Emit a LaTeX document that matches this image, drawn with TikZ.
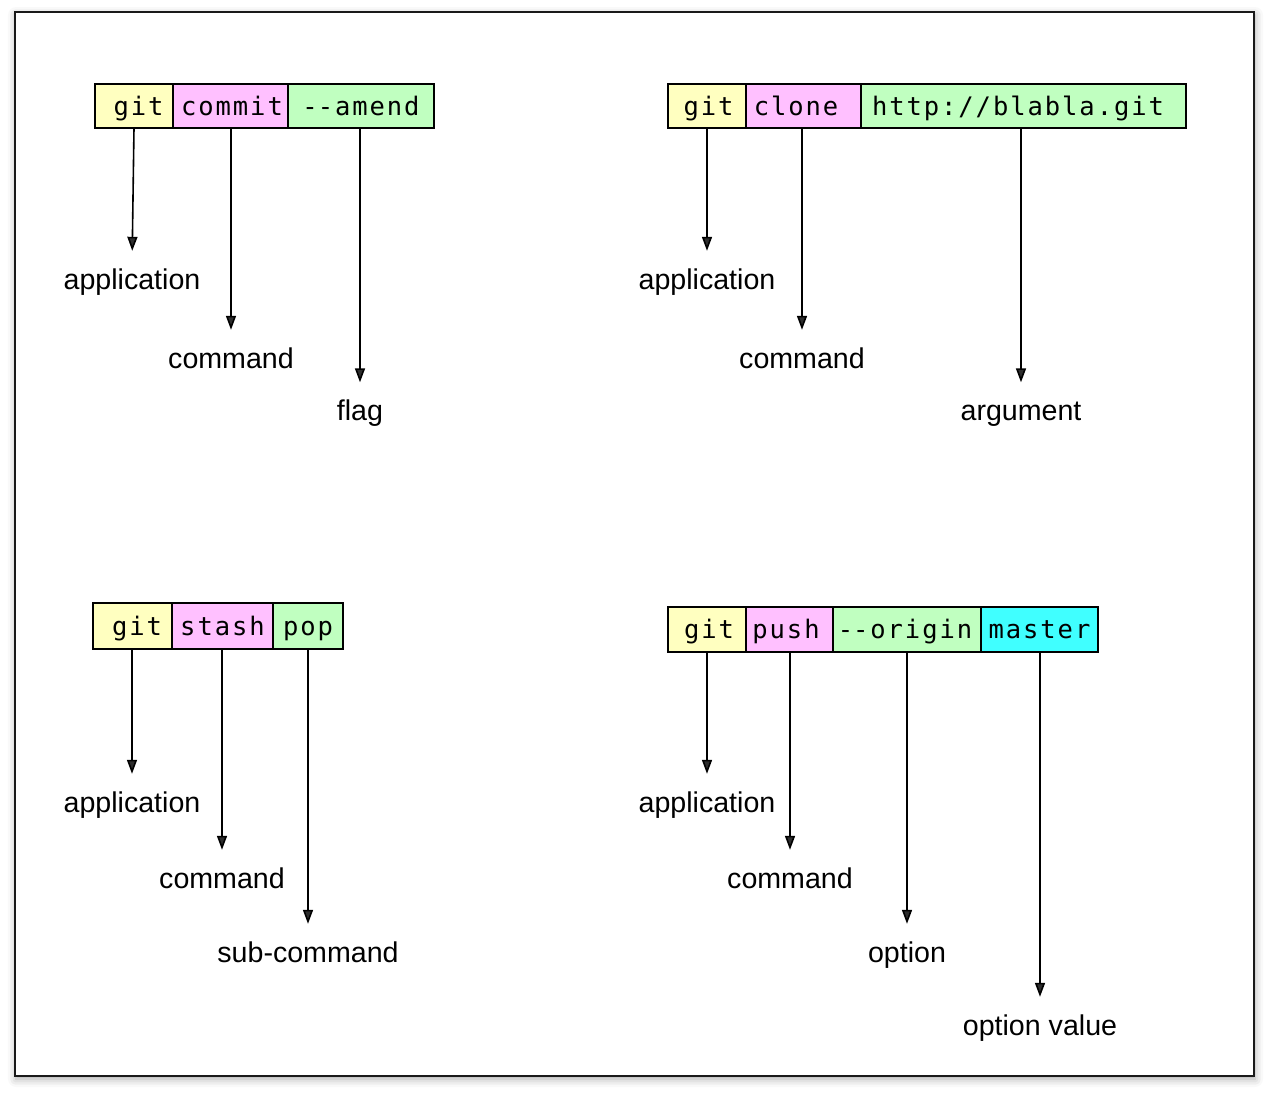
\documentclass[tikz,border=0pt]{standalone}
\usepackage{fontspec}
\setmainfont{Liberation Sans}
\newfontfamily\cellfont{DejaVu Sans Mono}[LetterSpace=7.6]
\usetikzlibrary{arrows.meta,shadows.blur}
\definecolor{cellyellow}{HTML}{FFFFC0}
\definecolor{cellpink}{HTML}{FFC0FF}
\definecolor{cellgreen}{HTML}{C0FFC0}
\definecolor{cellcyan}{HTML}{40FFFF}
\newcommand\nudge[1]{\hspace*{#1}}
\begin{document}
\begin{tikzpicture}[x=1pt,y=-1pt,
  cell/.style={draw=black, line width=1.6pt, outer sep=0pt, inner sep=0pt,
    minimum height=44pt, text height=20pt, text depth=2pt,
    font=\cellfont\fontsize{25.5}{32}\selectfont, anchor=west},
  first/.style={cell, anchor=north west},
  tag/.style={font=\fontsize{28.6}{34}\selectfont, inner sep=0pt,
    text height=21pt, text depth=6pt, anchor=base},
  arr/.style={line width=1.6pt, -{Triangle[length=14pt,width=10pt]}, shorten >=17pt},
  frame/.style={draw=black!90, line width=2pt, fill=white}]
\useasboundingbox (0,0) rectangle (1269,1095);

% outer frame with soft shadow
\path[frame, blur shadow={shadow xshift=1pt, shadow yshift=-3pt,
  shadow blur radius=8pt, shadow opacity=35}] (15,12) rectangle (1254,1076);

% git commit --amend
\node[first, fill=cellyellow, minimum width=78pt] (a1) at (95,84) {\nudge{9pt}git};
\node[cell, fill=cellpink, minimum width=115pt] (a2) at (a1.east) {\nudge{3pt}commit};
\node[cell, fill=cellgreen, minimum width=146pt] (a3) at (a2.east) {-\kern0pt-amend};
\node[tag] (la1) at (132,289) {application};
\node[tag] (la2) at (231,368) {command};
\node[tag] (la3) at (360,420.5) {flag};
\draw[arr] ([xshift=2pt]a1.south -| la1) -- (la1.north);
\draw[arr] (a2.south -| la2) -- (la2.north);
\draw[arr] (a3.south -| la3) -- (la3.north);

% git clone http://blabla.git
\node[first, fill=cellyellow, minimum width=78pt] (b1) at (668,84) {\nudge{3pt}git};
\node[cell, fill=cellpink, minimum width=115pt] (b2) at (b1.east) {\nudge{-15pt}clone};
\node[cell, fill=cellgreen, minimum width=325pt] (b3) at (b2.east) {\nudge{-11pt}http://blabla.git};
\node[tag] (lb1) at (707,289) {application};
\node[tag] (lb2) at (802,368) {command};
\node[tag] (lb3) at (1021,420.5) {argument};
\draw[arr] (b1.south -| lb1) -- (lb1.north);
\draw[arr] (b2.south -| lb2) -- (lb2.north);
\draw[arr] (b3.south -| lb3) -- (lb3.north);

% git stash pop
\node[first, fill=cellyellow, minimum width=79pt, minimum height=46pt] (c1) at (93,603) {\nudge{9pt}git};
\node[cell, fill=cellpink, minimum width=101pt, minimum height=46pt] (c2) at (c1.east) {stash};
\node[cell, fill=cellgreen, minimum width=70pt, minimum height=46pt] (c3) at (c2.east) {pop};
\node[tag] (lc1) at (132,812) {application};
\node[tag] (lc2) at (222,888) {command};
\node[tag] (lc3) at (308,962) {sub-command};
\draw[arr] (c1.south -| lc1) -- (lc1.north);
\draw[arr] (c2.south -| lc2) -- (lc2.north);
\draw[arr] (c3.south -| lc3) -- (lc3.north);

% git push --origin master
\node[first, fill=cellyellow, minimum width=78pt, minimum height=45pt] (d1) at (668,607) {\nudge{4pt}git};
\node[cell, fill=cellpink, minimum width=87pt, minimum height=45pt] (d2) at (d1.east) {\nudge{-7pt}push};
\node[cell, fill=cellgreen, minimum width=148pt, minimum height=45pt] (d3) at (d2.east) {\nudge{-4pt}-\kern0pt-origin};
\node[cell, fill=cellcyan, minimum width=117pt, minimum height=45pt] (d4) at (d3.east) {master};
\node[tag] (ld1) at (707,812) {application};
\node[tag] (ld2) at (790,888) {command};
\node[tag] (ld3) at (907,962) {option};
\node[tag] (ld4) at (1040,1035) {option value};
\draw[arr] (d1.south -| ld1) -- (ld1.north);
\draw[arr] (d2.south -| ld2) -- (ld2.north);
\draw[arr] (d3.south -| ld3) -- (ld3.north);
\draw[arr] (d4.south -| ld4) -- (ld4.north);
\end{tikzpicture}
\end{document}
